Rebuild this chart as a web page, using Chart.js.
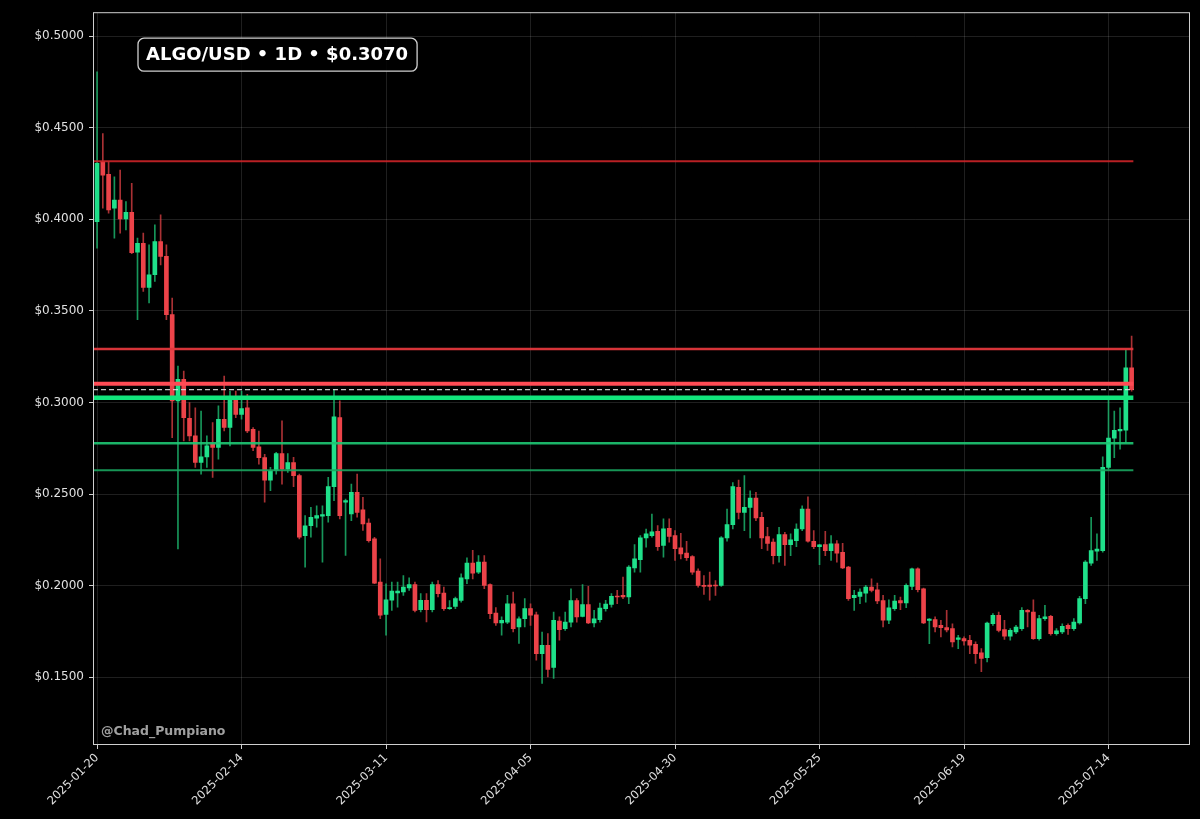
<!DOCTYPE html>
<html>
<head>
<meta charset="utf-8">
<title>ALGO/USD 1D</title>
<script src="https://cdn.jsdelivr.net/npm/chart.js"></script>
<style>
  html, body { margin: 0; padding: 0; background: #000; }
  canvas { display: block; }
</style>
</head>
<body>
<canvas id="chart" width="1200" height="819"></canvas>
<script>
// daily candles, 2025-01-20 .. 2025-07-18 (index = day number)
const opens = [
  0.3987,0.4314,0.4245,0.4060,0.4105,0.4002,0.4038,0.3820,0.3869,0.3628,
  0.3697,0.3878,0.3797,0.3479,0.3008,0.3126,0.2913,0.2817,0.2672,0.2703,
  0.2772,0.2754,0.2908,0.2863,0.3017,0.2935,0.2971,0.2853,0.2758,0.2699,
  0.2576,0.2627,0.2721,0.2636,0.2672,0.2600,0.2273,0.2327,0.2368,0.2379,
  0.2382,0.2540,0.2917,0.2455,0.2391,0.2509,0.2413,0.2341,0.2255,0.2019,
  0.1843,0.1920,0.1960,0.1965,0.1988,0.2006,0.1869,0.1920,0.1869,0.2006,
  0.1959,0.1874,0.1887,0.1919,0.2037,0.2123,0.2074,0.2128,0.2006,0.1850,
  0.1796,0.1801,0.1901,0.1774,0.1819,0.1874,0.1841,0.1629,0.1674,0.1553,
  0.1807,0.1765,0.1801,0.1919,0.1832,0.1897,0.1796,0.1814,0.1874,0.1898,
  0.1943,0.1947,0.1938,0.2097,0.2141,0.2261,0.2273,0.2297,0.2219,0.2313,
  0.2273,0.2206,0.2177,0.2159,0.2079,0.2001,0.2003,0.2001,0.2001,0.2261,
  0.2333,0.2536,0.2400,0.2427,0.2478,0.2373,0.2268,0.2237,0.2164,0.2279,
  0.2224,0.2246,0.2309,0.2418,0.2242,0.2213,0.2224,0.2191,0.2228,0.2182,
  0.2101,0.1934,0.1941,0.1959,0.1992,0.1977,0.1919,0.1811,0.1874,0.1919,
  0.1905,0.1996,0.2092,0.1983,0.1810,0.1814,0.1783,0.1771,0.1765,0.1706,
  0.1711,0.1702,0.1680,0.1633,0.1607,0.1792,0.1838,0.1760,0.1724,0.1747,
  0.1765,0.1865,0.1856,0.1711,0.1820,0.1832,0.1738,0.1747,0.1783,0.1765,
  0.1796,0.1929,0.2123,0.2188,0.2191,0.2645,0.2805,0.2845,0.2848,0.3189
];
const highs = [
  0.4804,0.4468,0.4314,0.4232,0.4268,0.4096,0.4196,0.3897,0.3924,0.3860,
  0.3969,0.4024,0.3860,0.3570,0.3198,0.3171,0.2999,0.2971,0.2953,0.2817,
  0.2890,0.2981,0.3144,0.3062,0.3062,0.3062,0.3044,0.2862,0.2844,0.2717,
  0.2645,0.2727,0.2899,0.2721,0.2700,0.2609,0.2382,0.2427,0.2436,0.2436,
  0.2591,0.3071,0.3008,0.2473,0.2554,0.2609,0.2482,0.2364,0.2264,0.2146,
  0.2010,0.2019,0.2019,0.2055,0.2043,0.2019,0.1956,0.1956,0.2019,0.2028,
  0.1992,0.1919,0.1938,0.2065,0.2152,0.2192,0.2164,0.2164,0.2010,0.1880,
  0.1829,0.1947,0.1965,0.1829,0.1929,0.1901,0.1856,0.1747,0.1738,0.1856,
  0.1829,0.1856,0.1983,0.1929,0.2006,0.1996,0.1865,0.1905,0.1920,0.1956,
  0.1974,0.2046,0.2110,0.2224,0.2273,0.2309,0.2391,0.2328,0.2364,0.2364,
  0.2300,0.2286,0.2242,0.2164,0.2092,0.2055,0.2074,0.2028,0.2268,0.2418,
  0.2563,0.2576,0.2600,0.2518,0.2509,0.2400,0.2318,0.2255,0.2318,0.2291,
  0.2282,0.2337,0.2436,0.2485,0.2300,0.2226,0.2297,0.2273,0.2246,0.2231,
  0.2105,0.1974,0.1983,0.2001,0.2037,0.2014,0.1947,0.1923,0.1947,0.1937,
  0.2010,0.2096,0.2097,0.1986,0.1820,0.1829,0.1810,0.1865,0.1792,0.1729,
  0.1720,0.1729,0.1693,0.1656,0.1801,0.1847,0.1856,0.1810,0.1765,0.1783,
  0.1880,0.1869,0.1923,0.1838,0.1892,0.1838,0.1765,0.1792,0.1792,0.1820,
  0.1941,0.2137,0.2373,0.2282,0.2703,0.3017,0.2953,0.2971,0.3289,0.3362
];
const lows = [
  0.3842,0.4060,0.4033,0.3897,0.3924,0.3942,0.3812,0.3452,0.3606,0.3543,
  0.3661,0.3751,0.3452,0.2808,0.2200,0.2790,0.2790,0.2645,0.2609,0.2645,
  0.2590,0.2690,0.2844,0.2763,0.2917,0.2908,0.2835,0.2736,0.2663,0.2455,
  0.2518,0.2609,0.2554,0.2618,0.2540,0.2255,0.2101,0.2264,0.2319,0.2128,
  0.2346,0.2464,0.2364,0.2165,0.2355,0.2373,0.2301,0.2237,0.2010,0.1820,
  0.1729,0.1865,0.1883,0.1947,0.1974,0.1856,0.1856,0.1802,0.1856,0.1938,
  0.1865,0.1870,0.1874,0.1910,0.2010,0.2037,0.2065,0.1983,0.1820,0.1783,
  0.1729,0.1792,0.1747,0.1684,0.1774,0.1783,0.1593,0.1466,0.1502,0.1493,
  0.1702,0.1756,0.1774,0.1801,0.1829,0.1792,0.1774,0.1801,0.1860,0.1883,
  0.1901,0.1929,0.1901,0.2074,0.2074,0.2210,0.2264,0.2192,0.2155,0.2237,
  0.2137,0.2146,0.2137,0.2061,0.1992,0.1952,0.1920,0.1947,0.1996,0.2242,
  0.2309,0.2364,0.2300,0.2261,0.2355,0.2201,0.2192,0.2119,0.2128,0.2110,
  0.2164,0.2213,0.2300,0.2237,0.2201,0.2115,0.2164,0.2137,0.2128,0.2092,
  0.1919,0.1865,0.1901,0.1910,0.1965,0.1901,0.1774,0.1792,0.1865,0.1869,
  0.1879,0.1978,0.1965,0.1792,0.1683,0.1747,0.1720,0.1747,0.1666,0.1656,
  0.1675,0.1629,0.1575,0.1530,0.1584,0.1783,0.1747,0.1706,0.1702,0.1738,
  0.1756,0.1774,0.1706,0.1702,0.1810,0.1729,0.1729,0.1738,0.1734,0.1756,
  0.1789,0.1901,0.2110,0.2137,0.2182,0.2636,0.2699,0.2745,0.2781,0.3062
];
const closes = [
  0.4305,0.4241,0.4051,0.4105,0.4002,0.4038,0.3818,0.3869,0.3628,0.3697,
  0.3878,0.3797,0.3479,0.3008,0.3126,0.2917,0.2817,0.2672,0.2703,0.2763,
  0.2754,0.2908,0.2863,0.3026,0.2935,0.2966,0.2844,0.2754,0.2699,0.2576,
  0.2627,0.2721,0.2636,0.2672,0.2600,0.2264,0.2327,0.2373,0.2382,0.2388,
  0.2540,0.2921,0.2382,0.2464,0.2509,0.2400,0.2337,0.2246,0.2014,0.1838,
  0.1923,0.1970,0.1970,0.1992,0.2006,0.1865,0.1920,0.1869,0.2006,0.1956,
  0.1874,0.1879,0.1929,0.2043,0.2123,0.2068,0.2128,0.2001,0.1847,0.1796,
  0.1811,0.1901,0.1765,0.1819,0.1874,0.1838,0.1629,0.1674,0.1542,0.1811,
  0.1760,0.1801,0.1919,0.1829,0.1897,0.1796,0.1819,0.1878,0.1899,0.1941,
  0.1938,0.1938,0.2101,0.2146,0.2261,0.2282,0.2293,0.2213,0.2310,0.2268,
  0.2201,0.2173,0.2152,0.2074,0.2001,0.1996,0.1996,0.1998,0.2261,0.2333,
  0.2540,0.2400,0.2427,0.2478,0.2369,0.2261,0.2231,0.2164,0.2279,0.2224,
  0.2250,0.2309,0.2418,0.2242,0.2213,0.2222,0.2191,0.2228,0.2177,0.2097,
  0.1929,0.1947,0.1965,0.1992,0.1974,0.1916,0.1811,0.1879,0.1916,0.1905,
  0.2001,0.2092,0.1978,0.1796,0.1817,0.1774,0.1771,0.1758,0.1693,0.1715,
  0.1698,0.1675,0.1629,0.1602,0.1796,0.1838,0.1756,0.1724,0.1756,0.1774,
  0.1865,0.1856,0.1711,0.1820,0.1829,0.1738,0.1753,0.1778,0.1765,0.1801,
  0.1929,0.2128,0.2191,0.2200,0.2645,0.2805,0.2848,0.2853,0.3189,0.3070
];

// x ticks (day index -> date label)
const xTickIdx = [0, 25, 50, 75, 100, 125, 150, 175];
const xTickLabels = ['2025-01-20', '2025-02-14', '2025-03-11', '2025-04-05',
                     '2025-04-30', '2025-05-25', '2025-06-19', '2025-07-14'];
const yTicks = [0.15, 0.20, 0.25, 0.30, 0.35, 0.40, 0.45, 0.50];

// support / resistance levels
const resistLevels = [0.4317, 0.3292, 0.3102];
const supportLevels = [0.3025, 0.2777, 0.2630];
const lastPrice = closes[closes.length - 1];

const GREEN = '#1fe08a';
const RED = '#ec4349';
const resistStyle = [
  { color: 'rgba(205,35,40,0.9)', width: 2 },
  { color: 'rgba(225,55,60,0.95)', width: 2.5 },
  { color: '#ff4b55', width: 4 }
];
const supportStyle = [
  { color: '#12e47c', width: 4.5 },
  { color: 'rgba(30,200,115,0.9)', width: 2.5 },
  { color: 'rgba(25,165,95,0.9)', width: 2 }
];
const lineFrom = -0.7, lineTo = 179.3;

const idx = closes.map((c, i) => i);
const isUp = idx.map(i => closes[i] >= opens[i]);

function levelDataset(v, style, dash) {
  return {
    type: 'line',
    data: [{ x: lineFrom, y: v }, { x: lineTo, y: v }],
    borderColor: style.color,
    borderWidth: style.width,
    borderDash: dash || [],
    pointRadius: 0,
    fill: false,
    order: 0
  };
}

const frame = {
  id: 'frame',
  afterDraw(chart) {
    const { ctx, chartArea: a } = chart;
    ctx.save();
    ctx.strokeStyle = '#cfcfcf';
    ctx.lineWidth = 1;
    ctx.strokeRect(a.left + 0.5, a.top + 0.5, a.right - a.left - 1, a.bottom - a.top - 1);

    // title box
    const title = 'ALGO/USD \u2022 1D \u2022 $' + lastPrice.toFixed(4);
    ctx.font = 'bold 18px "DejaVu Sans"';
    const tw = ctx.measureText(title).width;
    const bx = a.left + 45, by = a.top + 26, bw = tw + 17, bh = 33;
    ctx.beginPath();
    ctx.roundRect(bx, by, bw, bh, 6);
    ctx.fillStyle = 'rgba(0,0,0,0.85)';
    ctx.fill();
    ctx.strokeStyle = '#d0d0d0';
    ctx.lineWidth = 1.3;
    ctx.stroke();
    ctx.fillStyle = '#ffffff';
    ctx.textBaseline = 'middle';
    ctx.fillText(title, bx + 8, by + bh / 2 + 1);

    // watermark
    ctx.font = 'bold 12.5px "DejaVu Sans"';
    ctx.fillStyle = 'rgba(200,200,200,0.8)';
    ctx.textBaseline = 'alphabetic';
    ctx.fillText('@Chad_Pumpiano', a.left + 8, a.bottom - 10);
    ctx.restore();
  }
};

new Chart(document.getElementById('chart'), {
  type: 'bar',
  data: {
    datasets: [
      ...resistLevels.map((v, k) => levelDataset(v, resistStyle[k])),
      levelDataset(lastPrice, { color: 'rgba(220,220,220,0.9)', width: 1.3 }, [5, 3]),
      ...supportLevels.map((v, k) => levelDataset(v, supportStyle[k])),
      {
        type: 'bar',
        data: idx.map(i => ({ x: i, y: [opens[i], closes[i]] })),
        backgroundColor: idx.map(i => isUp[i] ? GREEN : RED),
        barThickness: 4,
        minBarLength: 1,
        grouped: false,
        order: 1
      },
      {
        type: 'bar',
        data: idx.map(i => ({ x: i, y: [lows[i], highs[i]] })),
        backgroundColor: idx.map(i => isUp[i] ? 'rgba(31,200,120,0.75)' : 'rgba(225,65,70,0.75)'),
        barThickness: 1,
        grouped: false,
        order: 2
      }
    ]
  },
  options: {
    responsive: false,
    animation: false,
    devicePixelRatio: 1,
    layout: { padding: { top: 10, right: 10, left: 0, bottom: 0 } },
    plugins: { legend: { display: false }, tooltip: { enabled: false } },
    scales: {
      x: {
        type: 'linear',
        offset: false,
        min: -0.7,
        max: 189.1,
        afterBuildTicks: s => { s.ticks = xTickIdx.map(v => ({ value: v })); },
        afterFit: s => { s.height = 74; },
        ticks: {
          color: '#e0e0e0',
          font: { family: 'DejaVu Sans', size: 11.5 },
          minRotation: 45,
          maxRotation: 45,
          padding: 2,
          callback: (v, i) => xTickLabels[i]
        },
        grid: { offset: false, color: 'rgba(255,255,255,0.12)', tickColor: '#cfcfcf', tickLength: 4 },
        border: { display: false }
      },
      y: {
        type: 'linear',
        min: 0.113,
        max: 0.513,
        afterBuildTicks: s => { s.ticks = yTicks.map(v => ({ value: v })); },
        afterFit: s => { s.width = 93; },
        ticks: {
          color: '#e0e0e0',
          font: { family: 'DejaVu Sans', size: 12 },
          padding: 5,
          callback: v => '$' + v.toFixed(4)
        },
        grid: { color: 'rgba(255,255,255,0.12)', tickColor: '#cfcfcf', tickLength: 4 },
        border: { display: false }
      }
    }
  },
  plugins: [frame]
});
</script>
</body>
</html>
